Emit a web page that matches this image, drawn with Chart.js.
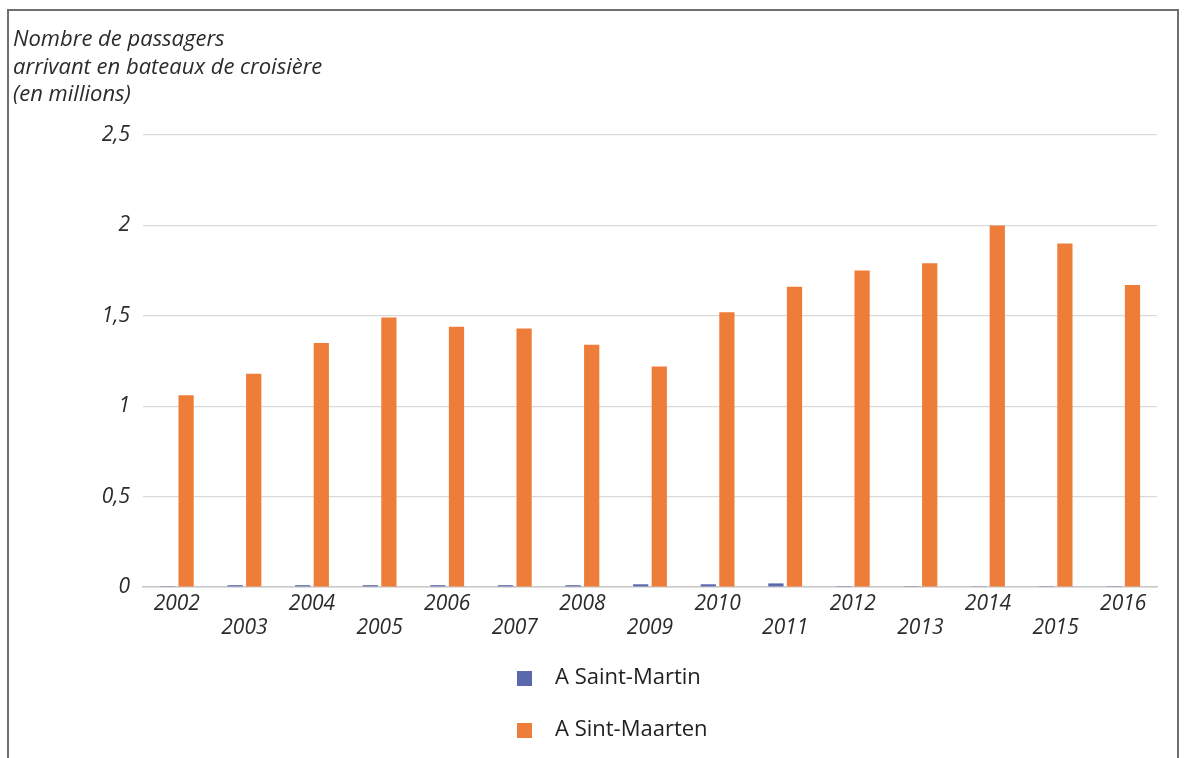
<!DOCTYPE html>
<html>
<head>
<meta charset="utf-8">
<script src="https://cdn.jsdelivr.net/npm/chart.js@4"></script>
<style>
  html, body { margin: 0; padding: 0; background: #fff; }
  #wrap { width: 1188px; height: 758px; }
</style>
</head>
<body>
<div id="wrap"><canvas id="myChart" width="1188" height="758"></canvas></div>
<script>
var years = ['2002', '2003', '2004', '2005', '2006', '2007', '2008', '2009',
             '2010', '2011', '2012', '2013', '2014', '2015', '2016'];
var saintMartin = [0.005, 0.01, 0.01, 0.01, 0.01, 0.01, 0.01, 0.015,
                   0.015, 0.02, 0.005, 0.005, 0.002, 0.005, 0.005];
var sintMaarten = [1.06, 1.18, 1.35, 1.49, 1.44, 1.43, 1.34, 1.22,
                   1.52, 1.66, 1.75, 1.79, 2.0, 1.90, 1.67];
var titleLines = ['Nombre de passagers', 'arrivant en bateaux de croisière', '(en millions)'];
var seriesNames = ['A Saint-Martin', 'A Sint-Maarten'];

var FONT = "'Open Sans', 'Noto Sans', sans-serif";

// frame + axis title drawn straight on the canvas
var decorPlugin = {
    id: 'decor',
    beforeDraw: function(chart) {
        var ctx = chart.ctx;
        ctx.save();
        ctx.fillStyle = '#fff';
        ctx.fillRect(0, 0, chart.width, chart.height);
        ctx.strokeStyle = '#6f6f6f';
        ctx.lineWidth = 2;
        ctx.beginPath();
        ctx.moveTo(8, chart.height);
        ctx.lineTo(8, 10);
        ctx.lineTo(1178, 10);
        ctx.lineTo(1178, chart.height);
        ctx.stroke();

        ctx.fillStyle = '#2b2b2b';
        ctx.font = 'italic 22px ' + FONT;
        ctx.textBaseline = 'middle';
        ctx.textAlign = 'left';
        titleLines.forEach(function(t, i) {
            ctx.fillText(t, 13, 40 + i * 27.5);
        });
        ctx.restore();
    },
    afterDraw: function(chart) {
        // stacked legend under the axis
        var ctx = chart.ctx;
        ctx.save();
        ctx.font = '22px ' + FONT;
        ctx.textBaseline = 'middle';
        ctx.textAlign = 'left';
        chart.data.datasets.forEach(function(ds, i) {
            var cy = 678 + i * 52;
            ctx.fillStyle = ds.backgroundColor;
            ctx.fillRect(517, cy - 7, 15, 15);
            ctx.fillStyle = '#222';
            ctx.fillText(ds.label, 555, cy);
        });
        ctx.restore();
    }
};

var ctx = document.getElementById('myChart').getContext('2d');
var chart = new Chart(ctx, {
    type: 'bar',
    data: {
        labels: years,
        datasets: [{
            label: seriesNames[0],
            data: saintMartin,
            backgroundColor: '#5b68ad',
            categoryPercentage: 0.55,
            barPercentage: 0.82
        }, {
            label: seriesNames[1],
            data: sintMaarten,
            backgroundColor: '#ef7d3a',
            categoryPercentage: 0.55,
            barPercentage: 0.82
        }]
    },
    options: {
        responsive: false,
        animation: false,
        layout: {
            padding: { left: 0, top: 135, right: 31, bottom: 119 }
        },
        plugins: {
            legend: { display: false },
            title: { display: false },
            tooltip: { enabled: false }
        },
        scales: {
            x: {
                grid: { display: false, drawTicks: false },
                border: { display: true, color: '#c8c8c8', width: 1.5 },
                ticks: {
                    autoSkip: false,
                    maxRotation: 0,
                    padding: 5,
                    color: '#2b2b2b',
                    font: { family: FONT, size: 21, style: 'italic', lineHeight: 1.15 },
                    callback: function(v, i) {
                        return i % 2 === 0 ? years[i] : ['', years[i]];
                    }
                },
                afterFit: function(s) { s.height = 52; }
            },
            y: {
                min: 0,
                max: 2.5,
                grid: { color: '#d9d9d9', lineWidth: 1.2, drawTicks: false },
                border: { display: false },
                ticks: {
                    stepSize: 0.5,
                    padding: 13,
                    color: '#2b2b2b',
                    font: { family: FONT, size: 21, style: 'italic' },
                    callback: function(v) { return String(v).replace('.', ','); }
                },
                afterFit: function(s) { s.width = 143; }
            }
        }
    },
    plugins: [decorPlugin]
});
</script>
</body>
</html>
